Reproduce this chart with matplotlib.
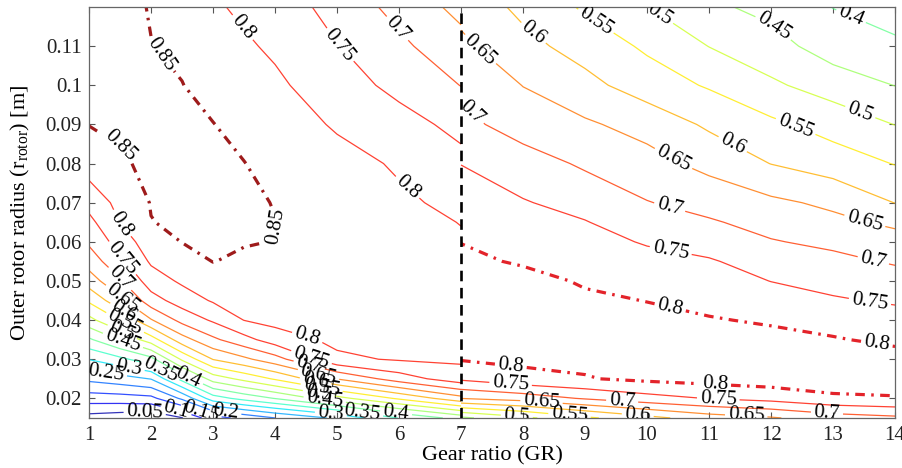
import matplotlib.pyplot as plt
import numpy as np
from matplotlib.colors import Normalize

plt.rcParams['font.family'] = 'Liberation Serif'
plt.rcParams['mathtext.fontset'] = 'custom'
plt.rcParams['mathtext.rm'] = 'Liberation Serif'

# contour levels (efficiency)
levels = [0.05, 0.1, 0.15, 0.2, 0.25, 0.3, 0.35, 0.4, 0.45, 0.5,
          0.55, 0.6, 0.65, 0.7, 0.75, 0.8, 0.85]

# outer rotor radius grid [m]
radius = [0.015, 0.02, 0.025, 0.03, 0.035, 0.04, 0.045, 0.05, 0.055, 0.06,
          0.065, 0.07, 0.08, 0.09, 0.1, 0.11, 0.12]

# gear ratios, left design space (GR 1-7) and right (GR 7-14)
gr_left = [1, 1.5, 2, 2.5, 3, 3.5, 4, 5, 6, 7]
gr_right = [7, 8, 9, 10, 11, 12, 13, 14]

# efficiency, one list per gear ratio (bottom -> top radius)
eff_left_cols = [
    [0.03, 0.125, 0.212, 0.302, 0.392, 0.485, 0.558, 0.625, 0.672, 0.708, 0.736, 0.767, 0.825, 0.851, 0.858, 0.864, 0.868],
    [0.02, 0.128, 0.229, 0.337, 0.454, 0.552, 0.636, 0.694, 0.738, 0.772, 0.801, 0.815, 0.845, 0.856, 0.862, 0.865, 0.866],
    [0.01, 0.136, 0.252, 0.383, 0.526, 0.646, 0.729, 0.775, 0.807, 0.828, 0.849, 0.852, 0.858, 0.86, 0.86, 0.851, 0.847],
    [0.048, 0.209, 0.367, 0.508, 0.629, 0.716, 0.773, 0.808, 0.829, 0.851, 0.856, 0.86, 0.862, 0.856, 0.851, 0.842, 0.832],
    [0.13, 0.327, 0.472, 0.602, 0.69, 0.757, 0.805, 0.827, 0.851, 0.855, 0.858, 0.859, 0.856, 0.851, 0.835, 0.82, 0.806],
    [0.165, 0.367, 0.514, 0.639, 0.733, 0.801, 0.816, 0.83, 0.842, 0.853, 0.856, 0.855, 0.851, 0.836, 0.822, 0.806, 0.792],
    [0.2, 0.402, 0.556, 0.68, 0.775, 0.815, 0.823, 0.834, 0.842, 0.849, 0.8505, 0.849, 0.835, 0.823, 0.808, 0.793, 0.78],
    [0.26, 0.483, 0.652, 0.79, 0.812, 0.822, 0.829, 0.832, 0.834, 0.834, 0.833, 0.829, 0.815, 0.795, 0.775, 0.752, 0.73],
    [0.352, 0.558, 0.725, 0.805, 0.815, 0.82, 0.822, 0.822, 0.82, 0.817, 0.812, 0.807, 0.795, 0.77, 0.735, 0.71, 0.685],
    [0.42, 0.633, 0.78, 0.807, 0.81, 0.812, 0.812, 0.81, 0.807, 0.804, 0.799, 0.79, 0.765, 0.735, 0.699, 0.668, 0.635],
]
eff_right_cols = [
    [0.44, 0.651, 0.758, 0.803, 0.812, 0.816, 0.817, 0.815, 0.81, 0.799, 0.788, 0.776, 0.749, 0.716, 0.688, 0.661, 0.634],
    [0.488, 0.672, 0.785, 0.81, 0.818, 0.822, 0.821, 0.815, 0.795, 0.783, 0.772, 0.753, 0.725, 0.675, 0.649, 0.615, 0.588],
    [0.54, 0.705, 0.797, 0.811, 0.818, 0.816, 0.808, 0.795, 0.783, 0.77, 0.752, 0.735, 0.692, 0.657, 0.615, 0.58, 0.543],
    [0.585, 0.732, 0.81, 0.814, 0.814, 0.812, 0.799, 0.785, 0.768, 0.745, 0.727, 0.702, 0.668, 0.632, 0.575, 0.542, 0.501],
    [0.625, 0.752, 0.818, 0.816, 0.81, 0.803, 0.788, 0.775, 0.755, 0.728, 0.705, 0.683, 0.635, 0.592, 0.545, 0.499, 0.46],
    [0.645, 0.767, 0.825, 0.822, 0.812, 0.795, 0.775, 0.749, 0.727, 0.703, 0.684, 0.66, 0.599, 0.56, 0.508, 0.47, 0.435],
    [0.675, 0.79, 0.83, 0.822, 0.803, 0.785, 0.755, 0.735, 0.712, 0.69, 0.662, 0.64, 0.575, 0.53, 0.478, 0.425, 0.399],
    [0.69, 0.797, 0.82, 0.815, 0.792, 0.77, 0.744, 0.72, 0.695, 0.67, 0.64, 0.599, 0.548, 0.499, 0.449, 0.41, 0.375],
]

ytick_vals = [0.02, 0.03, 0.04, 0.05, 0.06, 0.07, 0.08, 0.09, 0.1, 0.11]
ytick_labels = ['0.02', '0.03', '0.04', '0.05', '0.06', '0.07', '0.08', '0.09', '0.1', '0.11']

eff_left = np.array(eff_left_cols).T
eff_right = np.array(eff_right_cols).T

fig = plt.figure(figsize=(9.02, 4.68), dpi=100)
ax = fig.add_axes([0.0987, 0.107, 0.8936, 0.878])

# jet colours, capped at plain red for the top levels
jet = plt.get_cmap('jet')
norm = Normalize(0.02, 0.82)
level_colors = [jet(min(norm(v), 0.89)) for v in levels]

dashdot = (0, (3, 2, 0.8, 2))
lab_fs = 15

# left region: thin lines + thick 0.85 line
cs_l = ax.contour(gr_left, radius, eff_left, levels=levels[:-1], colors=level_colors[:-1],
                  linewidths=0.9, alpha=0.8)
cs_l85 = ax.contour(gr_left, radius, eff_left, levels=[0.85], colors='#9e1b1b',
                    linewidths=2.3, linestyles=[dashdot])

# right region: thin lines + thick 0.8 line
cs_r = ax.contour(gr_right, radius, eff_right, levels=levels[:15], colors=level_colors[:15],
                  linewidths=0.9, alpha=0.8)
cs_r80 = ax.contour(gr_right, radius, eff_right, levels=[0.8], colors='#e3232a',
                    linewidths=2.3, linestyles=[dashdot])

lab_left = [(3.52, 0.1153), (5.0, 0.1097), (5.9, 0.1135), (6.13, 0.0738),
            (1.5, 0.0644), (1.55, 0.056), (1.53, 0.051), (1.57, 0.046), (1.6, 0.043),
            (1.6, 0.040), (1.55, 0.0375), (1.55, 0.035),
            (1.28, 0.0272), (1.65, 0.0285), (2.15, 0.0272), (2.6, 0.0253),
            (1.9, 0.0165), (2.4, 0.0167), (2.8, 0.0162), (3.2, 0.0163),
            (4.5, 0.0345), (4.6, 0.031), (4.55, 0.0285), (4.7, 0.026), (4.65, 0.0242),
            (4.75, 0.0225), (4.7, 0.021), (4.8, 0.0195),
            (4.9, 0.016), (5.4, 0.016), (5.95, 0.016)]
lab_left85 = [(2.25, 0.109), (1.55, 0.085), (4.0, 0.064)]
lab_right = [(7.3, 0.109), (7.2, 0.0935), (8.2, 0.114), (9.2, 0.117), (10.2, 0.118),
             (12.05, 0.115), (13.3, 0.118), (13.4, 0.0915), (12.35, 0.0877), (11.3, 0.0825),
             (10.3, 0.0778), (10.35, 0.068), (13.5, 0.0647), (10.4, 0.0593), (13.65, 0.0553),
             (13.6, 0.0453), (7.8, 0.0238), (8.3, 0.0197), (9.6, 0.0197), (11.15, 0.0203),
             (7.9, 0.0157), (8.75, 0.0157), (9.85, 0.0157), (11.6, 0.0157), (12.9, 0.0158)]
lab_right80 = [(10.4, 0.0451), (13.7, 0.0333), (7.8, 0.0279), (11.1, 0.0245)]

ax.set_xlim(1, 14)
ax.set_ylim(0.015, 0.12)

for cs, pos in [(cs_l, lab_left), (cs_l85, lab_left85), (cs_r, lab_right), (cs_r80, lab_right80)]:
    txts = ax.clabel(cs, fmt='%g', fontsize=lab_fs, colors='k', manual=pos, inline=True, inline_spacing=3)
    for t in txts:
        t.set_clip_on(True)
        t.set_alpha(1)

ax.axvline(7, color='k', lw=1.9, ls=(0, (4, 2.5)), zorder=5)

ax.set_xticks(range(1, 15))
ax.set_yticks(ytick_vals)
ax.set_yticklabels(ytick_labels)
ax.tick_params(direction='in', top=True, right=True, length=4, width=0.8,
               color='#555555', labelsize=15, labelcolor='#222222')
ax.tick_params(axis='x', pad=6)
ax.tick_params(axis='y', pad=5)
for s in ax.spines.values():
    s.set_color('#666666')
    s.set_linewidth(0.9)

ax.set_xlabel('Gear ratio (GR)', fontsize=16, labelpad=1)
ax.set_ylabel(r'Outer rotor radius (r$_{\mathregular{rotor}}$) [m]', fontsize=16, labelpad=10)

fig.savefig('out.png', dpi=100)
